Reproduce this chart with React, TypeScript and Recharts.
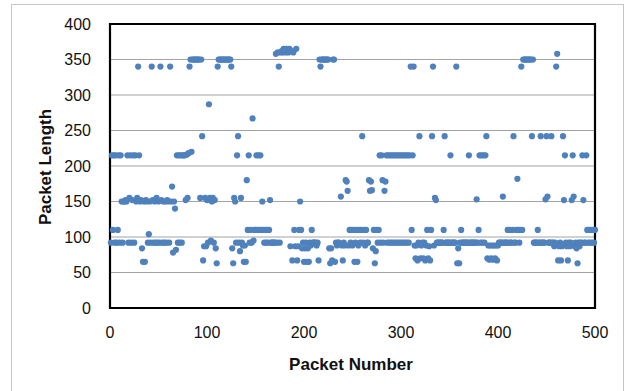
import React from 'react';
import { ScatterChart, Scatter, XAxis, YAxis, CartesianGrid, ReferenceArea, Label } from 'recharts';

// Packet lengths, packets 1-100
const lengthsA = [
  92, 215, 110, 215, 92, 215, 92, 110, 215, 92,
  215, 150, 92, 150, 150, 152, 150, 215, 92, 155,
  215, 92, 152, 215, 92, 215, 150, 155, 340, 215,
  150, 152, 84, 65, 150, 65, 152, 150, 92, 104,
  150, 92, 340, 152, 92, 150, 92, 155, 92, 150,
  92, 340, 152, 92, 150, 92, 150, 92, 152, 150,
  92, 340, 150, 171, 78, 150, 140, 82, 215, 92,
  215, 92, 215, 92, 215, 215, 215, 152, 216, 155,
  218, 340, 350, 220, 350, 350, 350, 350, 350, 350,
  350, 350, 155, 350, 242, 67, 87, 155, 87, 152,
];
// packets 101-200
const lengthsB = [
  92, 287, 155, 95, 150, 155, 92, 152, 84, 63,
  340, 350, 350, 350, 350, 350, 350, 350, 350, 350,
  350, 350, 350, 350, 340, 84, 63, 155, 150, 92,
  215, 242, 92, 80, 155, 92, 88, 65, 88, 65,
  180, 110, 215, 92, 110, 92, 267, 95, 110, 110,
  215, 110, 215, 110, 215, 110, 150, 110, 92, 110,
  92, 110, 92, 110, 152, 92, 92, 92, 92, 92,
  358, 92, 360, 340, 92, 360, 362, 360, 365, 362,
  360, 365, 362, 360, 365, 87, 362, 67, 360, 110,
  87, 365, 67, 87, 110, 150, 110, 84, 92, 65,
];
// packets 201-300
const lengthsC = [
  84, 92, 65, 84, 65, 92, 88, 110, 92, 92,
  92, 92, 88, 92, 67, 350, 340, 350, 350, 350,
  350, 350, 350, 350, 350, 84, 63, 84, 67, 350,
  350, 65, 92, 88, 92, 92, 90, 157, 88, 67,
  92, 88, 180, 178, 165, 88, 110, 92, 110, 88,
  110, 65, 92, 110, 65, 88, 110, 92, 110, 242,
  92, 110, 88, 110, 92, 92, 180, 165, 178, 166,
  84, 110, 63, 80, 110, 92, 110, 215, 92, 215,
  180, 92, 165, 178, 215, 92, 215, 92, 215, 92,
  215, 92, 215, 92, 215, 92, 215, 92, 215, 92,
];
// packets 301-400
const lengthsD = [
  215, 92, 215, 92, 215, 92, 215, 92, 215, 340,
  110, 215, 340, 88, 70, 88, 67, 92, 242, 70,
  88, 92, 70, 92, 67, 88, 110, 70, 87, 67,
  110, 242, 340, 88, 155, 152, 92, 92, 92, 92,
  92, 92, 92, 110, 242, 92, 92, 92, 92, 92,
  215, 92, 92, 92, 92, 92, 340, 63, 84, 63,
  92, 110, 92, 92, 92, 92, 92, 92, 92, 215,
  92, 92, 92, 92, 92, 92, 92, 153, 92, 110,
  215, 92, 215, 92, 215, 92, 215, 242, 70, 88,
  68, 88, 70, 88, 68, 88, 70, 88, 67, 88,
];
// packets 401-500
const lengthsE = [
  92, 92, 92, 92, 157, 92, 92, 92, 92, 110,
  92, 110, 92, 92, 110, 242, 92, 92, 110, 182,
  110, 92, 110, 340, 110, 350, 350, 350, 350, 350,
  350, 350, 350, 350, 242, 350, 92, 92, 92, 92,
  110, 92, 92, 242, 92, 92, 92, 92, 153, 242,
  157, 92, 92, 92, 242, 92, 92, 87, 92, 340,
  358, 67, 87, 92, 67, 87, 242, 152, 215, 92,
  87, 67, 92, 87, 92, 152, 215, 157, 87, 92,
  84, 63, 92, 87, 92, 92, 215, 152, 92, 92,
  215, 110, 92, 110, 92, 110, 92, 110, 92, 110,
];

const xTicks = [0, 100, 200, 300, 400, 500];
const yTicks = [0, 50, 100, 150, 200, 250, 300, 350, 400];
const xTitle = 'Packet Number';
const yTitle = 'Packet Length';

const lengths = [...lengthsA, ...lengthsB, ...lengthsC, ...lengthsD, ...lengthsE];
const data = lengths.map((len, i) => ({ packet: i + 1, length: len }));

const FONT = '"Liberation Sans", Arial, sans-serif';
const DOT = '#4f81bd';

const Dot = (props: any) => <circle cx={props.cx} cy={props.cy} r={3.1} fill={DOT} />;

export default function App() {
  return (
    <div style={{ position: 'absolute', left: 0, top: 0, width: 627, height: 391, background: '#fff', overflow: 'hidden' }}>
      <div style={{ position: 'absolute', left: 11, top: 4, width: 611, height: 420, border: '1px solid #c6c6c6' }} />
      <div style={{ position: 'absolute', left: 0, top: 0 }}>
        <ScatterChart width={627} height={391} margin={{ top: 24, right: 32, bottom: 53, left: 50 }}>
          <CartesianGrid vertical={false} stroke="#a3a3a3" strokeWidth={1.2} />
          <XAxis
            type="number"
            dataKey="packet"
            domain={[0, 500]}
            ticks={xTicks}
            interval={0}
            axisLine={false}
            tickLine={false}
            tickSize={0}
            tickMargin={19}
            height={30}
            tick={{ fontSize: 16, fill: '#111', fontFamily: FONT }}
          >
            <Label
              content={() => (
                <text x={351} y={370} textAnchor="middle" fontSize={17} fontWeight="bold" fontFamily={FONT} fill="#111">
                  {xTitle}
                </text>
              )}
            />
          </XAxis>
          <YAxis
            type="number"
            dataKey="length"
            domain={[0, 400]}
            ticks={yTicks}
            interval={0}
            axisLine={false}
            tickLine={false}
            tickSize={0}
            tickMargin={19}
            width={60}
            tick={{ fontSize: 16, fill: '#111', fontFamily: FONT }}
          >
            <Label
              content={() => (
                <text
                  x={45}
                  y={167}
                  textAnchor="middle"
                  dominantBaseline="central"
                  transform="rotate(-90 45 167)"
                  fontSize={17}
                  fontWeight="bold"
                  fontFamily={FONT}
                  fill="#111"
                >
                  {yTitle}
                </text>
              )}
            />
          </YAxis>
          <ReferenceArea x1={0} x2={500} y1={0} y2={400} fill="none" stroke="#000" strokeWidth={2.2} ifOverflow="visible" />
          <Scatter data={data} fill={DOT} shape={Dot} isAnimationActive={false} />
        </ScatterChart>
      </div>
    </div>
  );
}
